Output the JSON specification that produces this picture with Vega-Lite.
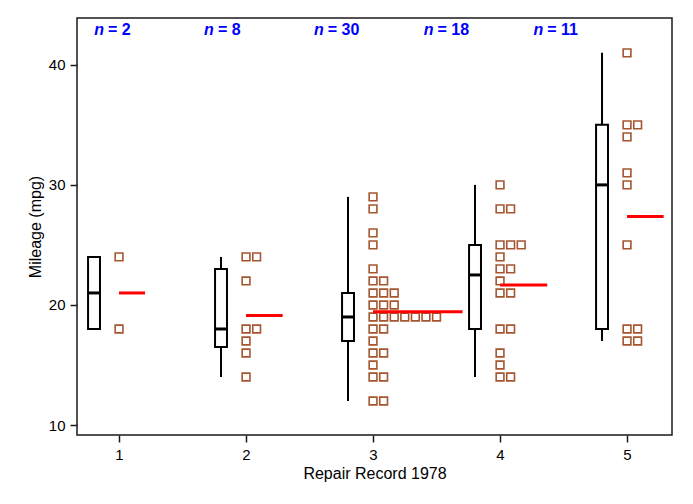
{
  "$schema": "https://vega.github.io/schema/vega-lite/v6.json",
  "width": 595,
  "height": 417,
  "autosize": {"type": "none"},
  "padding": {"left": 77, "top": 18, "right": 21, "bottom": 69},
  "background": "white",
  "config": {
    "view": {"stroke": "#1a1a1a", "strokeWidth": 1.5},
    "font": "Liberation Sans",
    "axis": {
      "domain": false, "grid": false, "tickColor": "#1a1a1a", "tickWidth": 1.5, "tickSize": 7,
      "labelFont": "Liberation Sans", "labelFontSize": 15, "labelColor": "#000",
      "titleFont": "Liberation Sans", "titleFontSize": 16, "titleFontWeight": "normal", "titleColor": "#000"
    },
    "axisX": {"labelPadding": 5, "titlePadding": 3},
    "axisY": {"labelPadding": 5, "titlePadding": 5, "labelAngle": 0}
  },
  "datasets": {
    "pts": [
      {"rep": 1, "mpg": 18}, {"rep": 1, "mpg": 24},
      {"rep": 2, "mpg": 24}, {"rep": 2, "mpg": 24}, {"rep": 2, "mpg": 22}, {"rep": 2, "mpg": 18}, {"rep": 2, "mpg": 18}, {"rep": 2, "mpg": 17}, {"rep": 2, "mpg": 16}, {"rep": 2, "mpg": 14},
      {"rep": 3, "mpg": 29}, {"rep": 3, "mpg": 28}, {"rep": 3, "mpg": 26}, {"rep": 3, "mpg": 25}, {"rep": 3, "mpg": 23},
      {"rep": 3, "mpg": 22}, {"rep": 3, "mpg": 22}, {"rep": 3, "mpg": 21}, {"rep": 3, "mpg": 21}, {"rep": 3, "mpg": 21},
      {"rep": 3, "mpg": 20}, {"rep": 3, "mpg": 20}, {"rep": 3, "mpg": 20},
      {"rep": 3, "mpg": 19}, {"rep": 3, "mpg": 19}, {"rep": 3, "mpg": 19}, {"rep": 3, "mpg": 19}, {"rep": 3, "mpg": 19}, {"rep": 3, "mpg": 19}, {"rep": 3, "mpg": 19},
      {"rep": 3, "mpg": 18}, {"rep": 3, "mpg": 18}, {"rep": 3, "mpg": 17}, {"rep": 3, "mpg": 16}, {"rep": 3, "mpg": 16},
      {"rep": 3, "mpg": 15}, {"rep": 3, "mpg": 14}, {"rep": 3, "mpg": 14}, {"rep": 3, "mpg": 12}, {"rep": 3, "mpg": 12},
      {"rep": 4, "mpg": 30}, {"rep": 4, "mpg": 28}, {"rep": 4, "mpg": 28}, {"rep": 4, "mpg": 25}, {"rep": 4, "mpg": 25}, {"rep": 4, "mpg": 25},
      {"rep": 4, "mpg": 24}, {"rep": 4, "mpg": 23}, {"rep": 4, "mpg": 23}, {"rep": 4, "mpg": 22}, {"rep": 4, "mpg": 21}, {"rep": 4, "mpg": 21},
      {"rep": 4, "mpg": 18}, {"rep": 4, "mpg": 18}, {"rep": 4, "mpg": 16}, {"rep": 4, "mpg": 15}, {"rep": 4, "mpg": 14}, {"rep": 4, "mpg": 14},
      {"rep": 5, "mpg": 41}, {"rep": 5, "mpg": 35}, {"rep": 5, "mpg": 35}, {"rep": 5, "mpg": 34}, {"rep": 5, "mpg": 31}, {"rep": 5, "mpg": 30},
      {"rep": 5, "mpg": 25}, {"rep": 5, "mpg": 18}, {"rep": 5, "mpg": 18}, {"rep": 5, "mpg": 17}, {"rep": 5, "mpg": 17}
    ],
    "box": [
      {"rep": 1, "lo": 18, "q1": 18, "med": 21, "q3": 24, "hi": 24},
      {"rep": 2, "lo": 14, "q1": 16.5, "med": 18, "q3": 23, "hi": 24},
      {"rep": 3, "lo": 12, "q1": 17, "med": 19, "q3": 21, "hi": 29},
      {"rep": 4, "lo": 14, "q1": 18, "med": 22.5, "q3": 25, "hi": 30},
      {"rep": 5, "lo": 17, "q1": 18, "med": 30, "q3": 35, "hi": 41}
    ]
  },
  "layer": [
    {
      "data": {"name": "box"},
      "transform": [{"calculate": "datum.rep - 0.197", "as": "xp"}],
      "mark": {"type": "rule", "color": "#000", "strokeWidth": 2},
      "encoding": {
        "x": {"field": "xp", "type": "quantitative", "scale": {"domain": [0.669, 5.354], "nice": false, "zero": false}, "axis": {"values": [1, 2, 3, 4, 5], "format": "d", "title": "Repair Record 1978"}},
        "y": {"field": "lo", "type": "quantitative", "scale": {"domain": [9.17, 43.9], "nice": false, "zero": false}, "axis": {"values": [10, 20, 30, 40], "title": "Mileage (mpg)"}},
        "y2": {"field": "hi"}
      }
    },
    {
      "data": {"name": "box"},
      "transform": [{"calculate": "datum.rep - 0.244", "as": "xp"}, {"calculate": "datum.rep - 0.150", "as": "xq"}],
      "mark": {"type": "rect", "fill": "#fff", "stroke": "#000", "strokeWidth": 2},
      "encoding": {
        "x": {"field": "xp", "type": "quantitative", "scale": {"domain": [0.669, 5.354], "nice": false, "zero": false}, "axis": {"values": [1, 2, 3, 4, 5], "format": "d", "title": "Repair Record 1978"}},
        "x2": {"field": "xq"},
        "y": {"field": "q1", "type": "quantitative", "scale": {"domain": [9.17, 43.9], "nice": false, "zero": false}, "axis": {"values": [10, 20, 30, 40], "title": "Mileage (mpg)"}},
        "y2": {"field": "q3"}
      }
    },
    {
      "data": {"name": "box"},
      "transform": [{"calculate": "datum.rep - 0.244", "as": "xp"}, {"calculate": "datum.rep - 0.150", "as": "xq"}],
      "mark": {"type": "rule", "color": "#000", "strokeWidth": 3},
      "encoding": {
        "x": {"field": "xp", "type": "quantitative", "scale": {"domain": [0.669, 5.354], "nice": false, "zero": false}, "axis": {"values": [1, 2, 3, 4, 5], "format": "d", "title": "Repair Record 1978"}},
        "x2": {"field": "xq"},
        "y": {"field": "med", "type": "quantitative", "scale": {"domain": [9.17, 43.9], "nice": false, "zero": false}, "axis": {"values": [10, 20, 30, 40], "title": "Mileage (mpg)"}}
      }
    },
    {
      "data": {"name": "pts"},
      "transform": [
        {"window": [{"op": "row_number", "as": "idx"}], "groupby": ["rep", "mpg"]},
        {"calculate": "datum.rep + (datum.idx - 1) * 0.0833", "as": "xp"}
      ],
      "mark": {"type": "point", "shape": "square", "filled": false, "size": 60, "strokeWidth": 1.6, "color": "#A5552F", "opacity": 1},
      "encoding": {
        "x": {"field": "xp", "type": "quantitative", "scale": {"domain": [0.669, 5.354], "nice": false, "zero": false}, "axis": {"values": [1, 2, 3, 4, 5], "format": "d", "title": "Repair Record 1978"}},
        "y": {"field": "mpg", "type": "quantitative", "scale": {"domain": [9.17, 43.9], "nice": false, "zero": false}, "axis": {"values": [10, 20, 30, 40], "title": "Mileage (mpg)"}}
      }
    },
    {
      "data": {"name": "pts"},
      "transform": [
        {"window": [{"op": "row_number", "as": "idx"}], "groupby": ["rep", "mpg"]},
        {"aggregate": [{"op": "mean", "field": "mpg", "as": "m"}, {"op": "max", "field": "idx", "as": "mi"}], "groupby": ["rep"]},
        {"calculate": "datum.rep", "as": "xp"},
        {"calculate": "datum.rep + (datum.mi - 1) * 0.0833 + 0.205", "as": "xq"}
      ],
      "mark": {"type": "rule", "color": "#ff0000", "strokeWidth": 3},
      "encoding": {
        "x": {"field": "xp", "type": "quantitative", "scale": {"domain": [0.669, 5.354], "nice": false, "zero": false}, "axis": {"values": [1, 2, 3, 4, 5], "format": "d", "title": "Repair Record 1978"}},
        "x2": {"field": "xq"},
        "y": {"field": "m", "type": "quantitative", "scale": {"domain": [9.17, 43.9], "nice": false, "zero": false}, "axis": {"values": [10, 20, 30, 40], "title": "Mileage (mpg)"}}
      }
    },
    {
      "data": {"name": "pts"},
      "transform": [
        {"aggregate": [{"op": "count", "as": "n"}], "groupby": ["rep"]},
        {"calculate": "datum.rep - 0.102 - (datum.rep - 1) * 0.1354", "as": "xp"}
      ],
      "mark": {"type": "text", "text": "n", "font": "Liberation Sans", "fontSize": 16, "fontWeight": "bold", "fontStyle": "italic", "color": "#0000ff", "align": "right", "baseline": "middle", "dx": -2},
      "encoding": {
        "x": {"field": "xp", "type": "quantitative", "scale": {"domain": [0.669, 5.354], "nice": false, "zero": false}, "axis": {"values": [1, 2, 3, 4, 5], "format": "d", "title": "Repair Record 1978"}},
        "y": {"datum": 42.9, "type": "quantitative", "scale": {"domain": [9.17, 43.9], "nice": false, "zero": false}, "axis": {"values": [10, 20, 30, 40], "title": "Mileage (mpg)"}}
      }
    },
    {
      "data": {"name": "pts"},
      "transform": [
        {"aggregate": [{"op": "count", "as": "n"}], "groupby": ["rep"]},
        {"calculate": "datum.rep - 0.102 - (datum.rep - 1) * 0.1354", "as": "xp"},
        {"calculate": "'= ' + datum.n", "as": "lbl"}
      ],
      "mark": {"type": "text", "font": "Liberation Sans", "fontSize": 16, "fontWeight": "bold", "color": "#0000ff", "align": "left", "baseline": "middle", "dx": 2},
      "encoding": {
        "x": {"field": "xp", "type": "quantitative", "scale": {"domain": [0.669, 5.354], "nice": false, "zero": false}, "axis": {"values": [1, 2, 3, 4, 5], "format": "d", "title": "Repair Record 1978"}},
        "y": {"datum": 42.9, "type": "quantitative", "scale": {"domain": [9.17, 43.9], "nice": false, "zero": false}, "axis": {"values": [10, 20, 30, 40], "title": "Mileage (mpg)"}},
        "text": {"field": "lbl"}
      }
    }
  ]
}
